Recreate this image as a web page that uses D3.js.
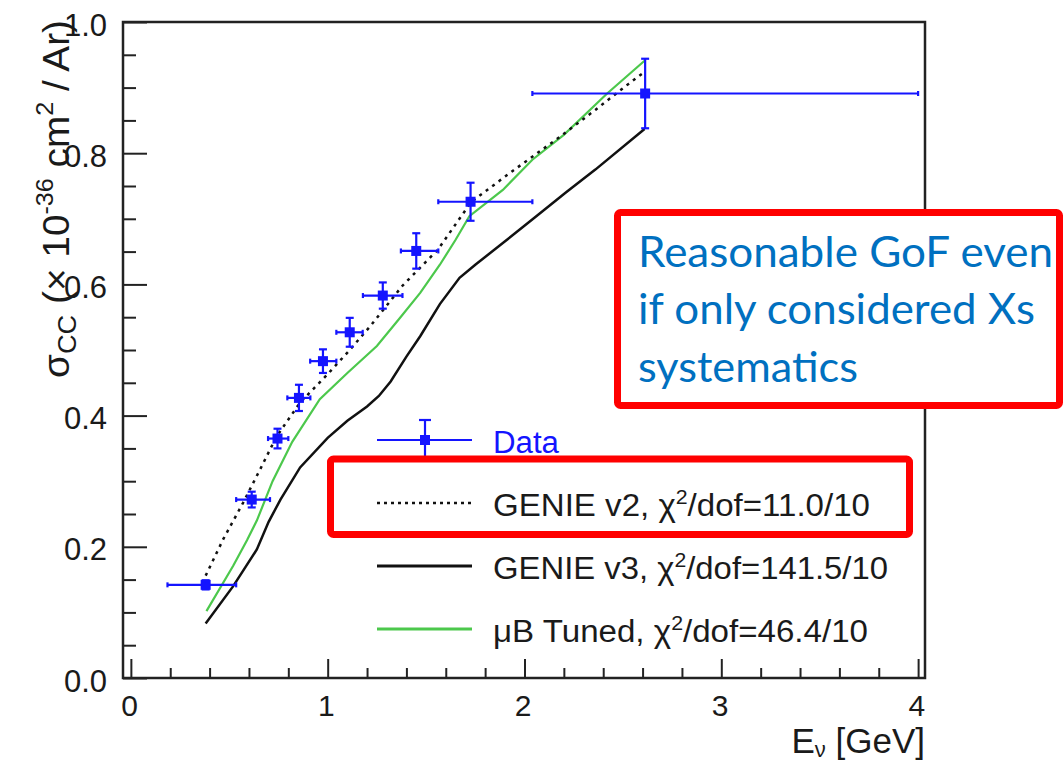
<!DOCTYPE html>
<html>
<head>
<meta charset="utf-8">
<script src="https://cdn.jsdelivr.net/npm/d3@7"></script>
<style>
  html, body { margin: 0; padding: 0; background: #fff; }
  svg { display: block; }
  .root-text { font-family: "Liberation Sans", Arial, Helvetica, sans-serif; fill: #1a1a1a; white-space: pre; }
</style>
</head>
<body>
<svg id="chart" width="1063" height="761"></svg>
<script>
// ---------- data ----------
const dataX     = [0.380, 0.614, 0.745, 0.854, 0.976, 1.112, 1.280, 1.450, 1.726, 2.613];
const dataY     = [0.142, 0.272, 0.365, 0.427, 0.483, 0.527, 0.583, 0.651, 0.726, 0.891];
const dataXLow  = [0.186, 0.535, 0.697, 0.795, 0.911, 1.044, 1.179, 1.372, 1.562, 2.040];
const dataXHigh = [0.535, 0.707, 0.800, 0.912, 1.044, 1.178, 1.380, 1.562, 2.040, 4.000];
const dataYErr  = [0.007, 0.012, 0.015, 0.020, 0.018, 0.022, 0.020, 0.027, 0.029, 0.053];

const genieV2X = [0.38, 0.47, 0.57, 0.66, 0.74, 0.86, 0.99, 1.10, 1.21, 1.38, 1.56, 1.73, 1.94, 2.18, 2.36, 2.53, 2.61];
const genieV2Y = [0.156, 0.212, 0.267, 0.320, 0.368, 0.420, 0.460, 0.496, 0.534, 0.598, 0.653, 0.726, 0.773, 0.825, 0.866, 0.906, 0.924];

const genieV3X = [0.38, 0.52, 0.64, 0.70, 0.76, 0.86, 1.00, 1.10, 1.20, 1.26, 1.32, 1.40, 1.47, 1.57, 1.67, 1.75, 1.89, 2.06, 2.21, 2.36, 2.61];
const genieV3Y = [0.083, 0.140, 0.196, 0.238, 0.272, 0.321, 0.366, 0.392, 0.414, 0.430, 0.452, 0.490, 0.521, 0.570, 0.610, 0.630, 0.663, 0.704, 0.740, 0.775, 0.837];

const tunedX = [0.384, 0.52, 0.59, 0.64, 0.72, 0.82, 0.96, 1.10, 1.25, 1.37, 1.47, 1.57, 1.65, 1.72, 1.89, 2.04, 2.20, 2.42, 2.61];
const tunedY = [0.102, 0.171, 0.210, 0.240, 0.300, 0.360, 0.425, 0.465, 0.506, 0.550, 0.587, 0.630, 0.668, 0.704, 0.744, 0.790, 0.828, 0.891, 0.941];

const xMajorTicks = [0, 1, 2, 3, 4];
const yMajorTicks = [0.0, 0.2, 0.4, 0.6, 0.8, 1.0];

const legendLabels = ["Data", "GENIE v2", "GENIE v3", "\u03bcB Tuned"];
const legendChi2   = ["", "11.0/10", "141.5/10", "46.4/10"];
const noteLines = ["Reasonable GoF even", "if only considered Xs", "systematics"];

// ---------- layout ----------
const svg = d3.select("#chart");
const frame = { left: 123, right: 925, top: 22, bottom: 678 };

const x = d3.scaleLinear().domain([-0.04, 4.035]).range([frame.left, frame.right]);
const y = d3.scaleLinear().domain([0, 1]).range([frame.bottom, frame.top]);

const axisColor = "#222";
const blue = "#1414ff";

// minor ticks
const xMinor = d3.range(0, 4.0001, 0.2).filter(v => Math.abs(v - Math.round(v)) > 1e-6);
const yMinor = d3.range(0, 1.0001, 0.05).filter(v => Math.abs(v * 5 - Math.round(v * 5)) > 1e-6);

// Y axis major
const gy = svg.append("g").attr("transform", `translate(${frame.left},0)`)
  .call(d3.axisLeft(y).tickValues(yMajorTicks).tickFormat(d3.format(".1f")).tickSize(-24).tickPadding(16));
gy.select(".domain").remove();
gy.selectAll(".tick line").attr("stroke", axisColor).attr("stroke-width", 2);
gy.selectAll(".tick text").attr("class", "root-text").attr("font-size", 31).attr("dy", "0.42em");

const gyMinor = svg.append("g").attr("transform", `translate(${frame.left},0)`)
  .call(d3.axisLeft(y).tickValues(yMinor).tickFormat("").tickSize(-13));
gyMinor.select(".domain").remove();
gyMinor.selectAll(".tick line").attr("stroke", axisColor).attr("stroke-width", 2);

// X axis major
const gx = svg.append("g").attr("transform", `translate(0,${frame.bottom})`)
  .call(d3.axisBottom(x).tickValues(xMajorTicks).tickFormat(d3.format("d")).tickSize(-19).tickPadding(17));
gx.select(".domain").remove();
gx.selectAll(".tick line").attr("stroke", axisColor).attr("stroke-width", 2);
gx.selectAll(".tick text").attr("class", "root-text").attr("font-size", 30).attr("dx", "-0.06em");

const gxMinor = svg.append("g").attr("transform", `translate(0,${frame.bottom})`)
  .call(d3.axisBottom(x).tickValues(xMinor).tickFormat("").tickSize(-10));
gxMinor.select(".domain").remove();
gxMinor.selectAll(".tick line").attr("stroke", axisColor).attr("stroke-width", 2);

// frame
svg.append("rect")
  .attr("x", frame.left).attr("y", frame.top)
  .attr("width", frame.right - frame.left).attr("height", frame.bottom - frame.top)
  .attr("fill", "none").attr("stroke", axisColor).attr("stroke-width", 2.5);

// ---------- curves ----------
const line = d3.line().x(d => x(d[0])).y(d => y(d[1]));
const zip = (a, b) => a.map((v, i) => [v, b[i]]);

svg.append("path").datum(zip(genieV3X, genieV3Y)).attr("d", line)
  .attr("fill", "none").attr("stroke", "#111").attr("stroke-width", 2.5);
svg.append("path").datum(zip(tunedX, tunedY)).attr("d", line)
  .attr("fill", "none").attr("stroke", "#4cc84c").attr("stroke-width", 2.2);
svg.append("path").datum(zip(genieV2X, genieV2Y)).attr("d", line)
  .attr("fill", "none").attr("stroke", "#111").attr("stroke-width", 2.5)
  .attr("stroke-dasharray", "3,5");

// ---------- data points ----------
const pts = dataX.map((v, i) => ({ x: v, y: dataY[i], xl: dataXLow[i], xh: dataXHigh[i], ye: dataYErr[i] }));
const gp = svg.append("g").attr("stroke", blue).attr("stroke-width", 2.2);
pts.forEach(p => {
  const cx = x(p.x), cy = y(p.y);
  gp.append("line").attr("x1", x(p.xl)).attr("x2", x(p.xh)).attr("y1", cy).attr("y2", cy);
  gp.append("line").attr("x1", x(p.xl)).attr("x2", x(p.xl)).attr("y1", cy - 2.5).attr("y2", cy + 2.5);
  gp.append("line").attr("x1", x(p.xh)).attr("x2", x(p.xh)).attr("y1", cy - 2.5).attr("y2", cy + 2.5);
  gp.append("line").attr("x1", cx).attr("x2", cx).attr("y1", y(p.y + p.ye)).attr("y2", y(p.y - p.ye));
  gp.append("line").attr("x1", cx - 4).attr("x2", cx + 4).attr("y1", y(p.y + p.ye)).attr("y2", y(p.y + p.ye));
  gp.append("line").attr("x1", cx - 4).attr("x2", cx + 4).attr("y1", y(p.y - p.ye)).attr("y2", y(p.y - p.ye));
  gp.append("rect").attr("x", cx - 5).attr("y", cy - 5).attr("width", 10).attr("height", 10)
    .attr("fill", blue).attr("stroke", "none");
});

// ---------- axis titles ----------
const yt = svg.append("text").attr("class", "root-text").attr("font-size", 37)
  .attr("text-anchor", "end")
  .attr("textLength", 358).attr("lengthAdjust", "spacingAndGlyphs")
  .attr("transform", "translate(69,20) rotate(-90)");
yt.append("tspan").text("\u03c3");
yt.append("tspan").attr("font-size", 26).attr("dy", 7).text("CC");
yt.append("tspan").attr("dy", -7).text(" (\u00d7 10");
yt.append("tspan").attr("font-size", 24).attr("dy", -16).text("-36");
yt.append("tspan").attr("dy", 16).text(" cm");
yt.append("tspan").attr("font-size", 24).attr("dy", -16).text("2");
yt.append("tspan").attr("dy", 16).text(" / Ar)");

const xt = svg.append("text").attr("class", "root-text").attr("font-size", 35)
  .attr("text-anchor", "end").attr("x", 925).attr("y", 753);
xt.append("tspan").text("E");
xt.append("tspan").attr("font-size", 22).attr("dy", 4).text("\u03bd");
xt.append("tspan").attr("dy", -4).text(" [GeV]");

// ---------- legend ----------
const legRowY = [440, 503, 566, 629];
const legX0 = 377, legX1 = 472, legTextX = 493;
const legWidths = [66, 377, 395, 375];
// data entry
svg.append("line").attr("x1", legX0).attr("x2", legX1).attr("y1", legRowY[0]).attr("y2", legRowY[0])
  .attr("stroke", blue).attr("stroke-width", 2.2);
svg.append("line").attr("x1", 425).attr("x2", 425).attr("y1", 420).attr("y2", 462)
  .attr("stroke", blue).attr("stroke-width", 2.2);
svg.append("line").attr("x1", 419).attr("x2", 431).attr("y1", 420).attr("y2", 420)
  .attr("stroke", blue).attr("stroke-width", 2.2);
svg.append("rect").attr("x", 420).attr("y", legRowY[0] - 5).attr("width", 10).attr("height", 10).attr("fill", blue);
svg.append("text").attr("class", "root-text").attr("x", legTextX).attr("y", legRowY[0] + 13)
  .attr("font-size", 31).style("fill", blue)
  .attr("textLength", legWidths[0]).attr("lengthAdjust", "spacingAndGlyphs")
  .text(legendLabels[0]);

const legStyles = [
  null,
  { stroke: "#111", width: 2.5, dash: "3,4" },
  { stroke: "#111", width: 3, dash: null },
  { stroke: "#4cc84c", width: 3, dash: null }
];
for (let i = 1; i < 4; i++) {
  const st = legStyles[i];
  const l = svg.append("line").attr("x1", legX0).attr("x2", legX1).attr("y1", legRowY[i]).attr("y2", legRowY[i])
    .attr("stroke", st.stroke).attr("stroke-width", st.width);
  if (st.dash) l.attr("stroke-dasharray", st.dash);
  const t = svg.append("text").attr("class", "root-text").attr("x", legTextX).attr("y", legRowY[i] + 13)
    .attr("font-size", 31)
    .attr("textLength", legWidths[i]).attr("lengthAdjust", "spacingAndGlyphs");
  t.append("tspan").text(legendLabels[i] + ", \u03c7");
  t.append("tspan").attr("font-size", 20).attr("dy", -12).text("2");
  t.append("tspan").attr("dy", 12).text("/dof=" + legendChi2[i]);
}

// ---------- highlight boxes ----------
svg.append("rect").attr("x", 330.5).attr("y", 459).attr("width", 579).attr("height", 75.5)
  .attr("rx", 3).attr("fill", "none").attr("stroke", "#ff0000").attr("stroke-width", 7);

svg.append("rect").attr("x", 617.5).attr("y", 212.5).attr("width", 442).attr("height", 193)
  .attr("rx", 3).attr("fill", "#fff").attr("stroke", "#ff0000").attr("stroke-width", 7);

const noteBase = [267, 323.5, 381.5];
const noteWidths = [415, 397, 220];
noteLines.forEach((s, i) => {
  svg.append("text").attr("x", 638).attr("y", noteBase[i])
    .attr("font-family", "Lato, 'Open Sans', sans-serif").attr("font-size", 42)
    .attr("fill", "#0070c0")
    .attr("textLength", noteWidths[i]).attr("lengthAdjust", "spacingAndGlyphs")
    .text(s);
});
</script>
</body>
</html>
